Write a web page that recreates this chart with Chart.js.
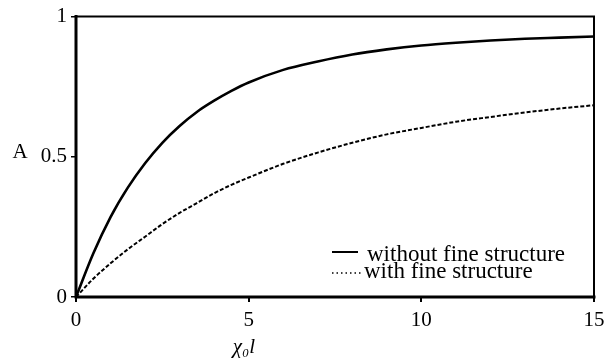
<!DOCTYPE html>
<html>
<head>
<meta charset="utf-8">
<script src="https://cdn.jsdelivr.net/npm/chart.js@4"></script>
<style>
html,body{margin:0;padding:0;background:#fff;}
#wrap{width:615px;height:361px;position:relative;}
</style>
</head>
<body>
<div id="wrap"><canvas id="c" width="615" height="361"></canvas></div>
<script>
const xValues = [0,0.5,1,1.5,2,2.5,3,3.5,4,4.5,5,6,7,8,9,10,11,12,13,14,15];
const withoutFine = [0,0.155,0.285,0.39,0.477,0.55,0.61,0.66,0.70,0.735,0.765,0.81,0.84,0.865,0.883,0.897,0.907,0.915,0.921,0.925,0.929];
const withFine = [0,0.065,0.12,0.17,0.215,0.26,0.30,0.335,0.37,0.40,0.426,0.475,0.515,0.55,0.58,0.603,0.625,0.642,0.658,0.672,0.684];
const xTicks = [0,5,10,15];
const yTicks = [0,0.5,1];
const seriesLabels = ['without fine structure','with fine structure'];
const xTitle = 'χ₀l';
const yTitle = 'A';

const SERIF = '"Liberation Serif", "DejaVu Serif", serif';

const toPts = (ys) => xValues.map((x,i)=>({x:x,y:ys[i]}));

const decor = {
  id:'decor',
  afterDatasetsDraw(chart){
    const ctx = chart.ctx, a = chart.chartArea;
    ctx.save();
    ctx.strokeStyle = '#000';
    ctx.lineCap = 'square';
    ctx.lineWidth = 2;
    ctx.beginPath();
    ctx.moveTo(a.left, a.top); ctx.lineTo(a.right, a.top); ctx.lineTo(a.right, a.bottom);
    ctx.stroke();
    ctx.lineWidth = 3;
    ctx.beginPath();
    ctx.moveTo(a.left, a.top); ctx.lineTo(a.left, a.bottom); ctx.lineTo(a.right, a.bottom);
    ctx.stroke();

    // legend
    ctx.fillStyle = '#000';
    ctx.font = '23px ' + SERIF;
    ctx.textBaseline = 'alphabetic';
    ctx.textAlign = 'left';
    ctx.lineCap = 'butt';
    ctx.lineWidth = 2;
    ctx.setLineDash([]);
    ctx.beginPath(); ctx.moveTo(332, 252); ctx.lineTo(358, 252); ctx.stroke();
    ctx.fillText(seriesLabels[0], 367, 261);
    ctx.lineWidth = 1.5;
    ctx.setLineDash([1.5,3]);
    ctx.beginPath(); ctx.moveTo(332, 273); ctx.lineTo(362, 273); ctx.stroke();
    ctx.setLineDash([]);
    ctx.fillText(seriesLabels[1], 364, 278);

    // axis titles
    ctx.font = 'italic 21px ' + SERIF;
    ctx.textAlign = 'center';
    ctx.fillText(xTitle, 244, 353);
    ctx.font = '21px ' + SERIF;
    ctx.fillText(yTitle, 20, 158);
    ctx.restore();
  }
};

new Chart(document.getElementById('c'), {
  type:'line',
  data:{
    datasets:[
      {label:seriesLabels[0], data:toPts(withoutFine), borderColor:'#000', borderWidth:2.6,
       pointRadius:0, cubicInterpolationMode:'monotone', fill:false},
      {label:seriesLabels[1], data:toPts(withFine), borderColor:'#000', borderWidth:2,
       borderDash:[4,2], pointRadius:0, cubicInterpolationMode:'monotone', fill:false}
    ]
  },
  options:{
    responsive:false,
    animation:false,
    layout:{padding:{left:0,top:16,right:21,bottom:0}},
    plugins:{legend:{display:false}, tooltip:{enabled:false}},
    scales:{
      x:{
        type:'linear', min:0, max:15,
        afterBuildTicks(s){ s.ticks = xTicks.map(v=>({value:v})); },
        afterFit(s){ s.height = 64; },
        grid:{display:true, drawOnChartArea:false, drawTicks:true, tickLength:5, color:'#000', lineWidth:2},
        border:{display:false},
        ticks:{color:'#000', font:{family:SERIF, size:21}, padding:6, maxRotation:0,
               callback:(v)=>String(v)}
      },
      y:{
        type:'linear', min:0, max:1,
        afterBuildTicks(s){ s.ticks = yTicks.map(v=>({value:v})); },
        afterFit(s){ s.width = 76; },
        grid:{display:true, drawOnChartArea:false, drawTicks:true, tickLength:5, color:'#000', lineWidth:1.5},
        border:{display:false},
        ticks:{color:'#000', font:{family:SERIF, size:21}, padding:4,
               callback:(v)=> v===0.5 ? '0.5' : String(v)}
      }
    }
  },
  plugins:[decor]
});
</script>
</body>
</html>
